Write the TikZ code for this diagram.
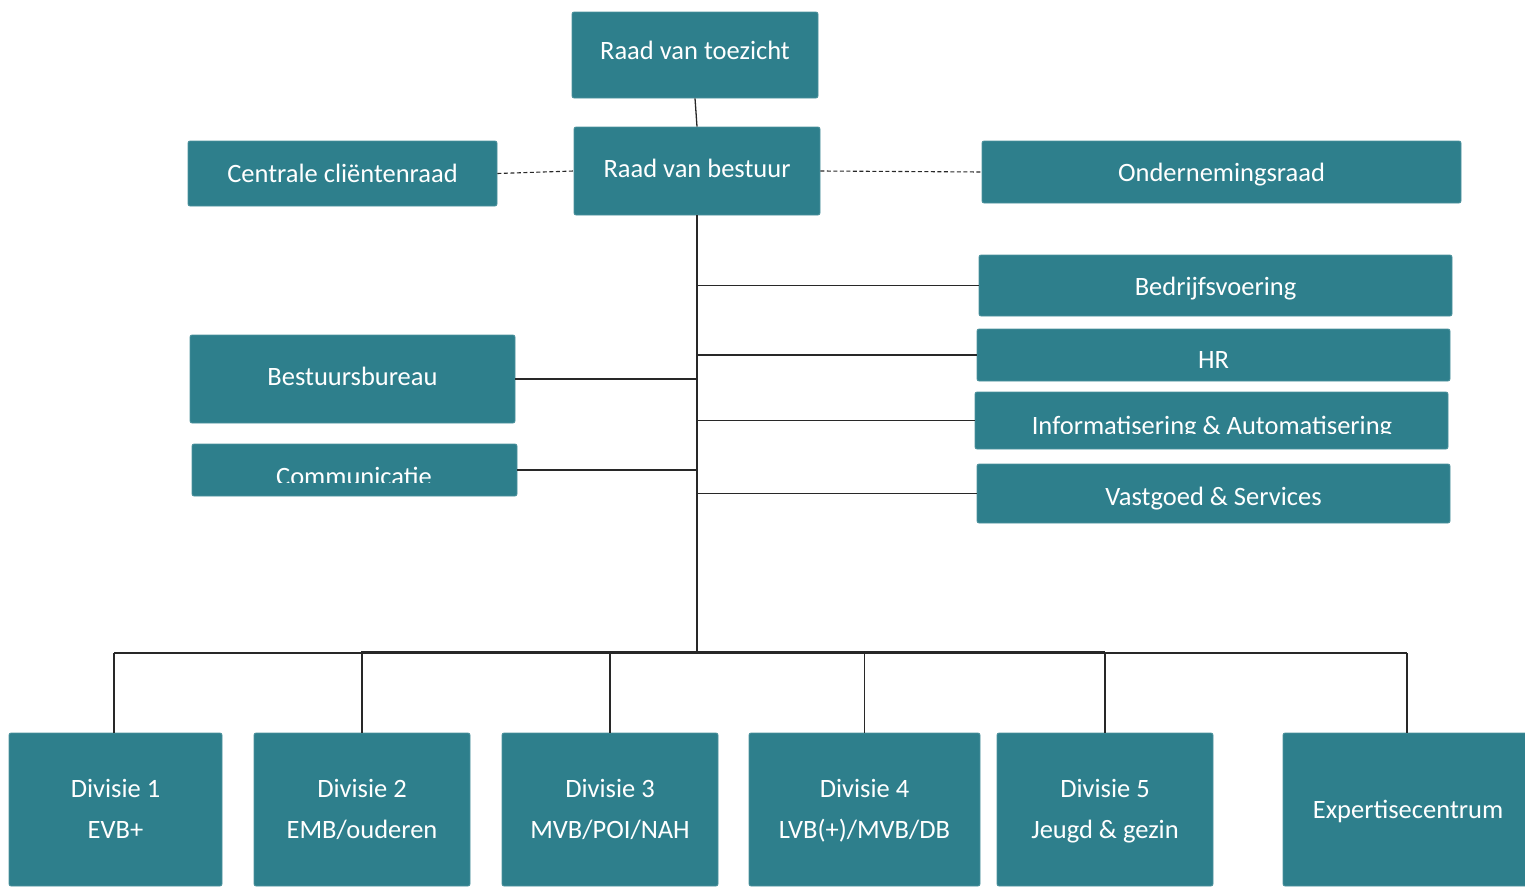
\documentclass[tikz,border=0pt]{standalone}
\usepackage{fontspec}
\setmainfont{Carlito}
\definecolor{boxteal}{RGB}{46,127,140}
\definecolor{linegray}{RGB}{40,40,40}
\begin{document}
\begin{tikzpicture}[x=1pt,y=-1pt,
  orgbox/.style={draw=boxteal!85!white,line width=0.8pt,fill=boxteal,rounded corners=2pt,inner sep=0pt,
    text=white,font=\fontsize{26.5}{41}\selectfont,align=center},
  base/.style={text height=#1pt,text depth=0pt},
  plaintext/.style={inner sep=0pt,text=white,font=\fontsize{26.5}{41}\selectfont},
  conn/.style={draw=linegray,line width=1.3pt},
  dashconn/.style={draw=linegray,line width=1.1pt,dashed,dash pattern=on 4pt off 2.5pt}]
\useasboundingbox (0,0) rectangle (1525,886);
% boxes
\node[orgbox,base=8,minimum width=246pt,minimum height=86pt] (rvt) at (695,55) {Raad van toezicht};
\node[orgbox,base=12,minimum width=246pt,minimum height=88pt] (rvb) at (697,171) {Raad van bestuur};
\node[orgbox,base=17,minimum width=309pt,minimum height=65pt] (ccr) at (342.5,173.5) {Centrale cliëntenraad};
\node[orgbox,base=19,minimum width=479pt,minimum height=62pt] (or) at (1221.5,172) {Ondernemingsraad};
\node[orgbox,base=19,minimum width=473pt,minimum height=61pt] (bv) at (1215.5,285.5) {Bedrijfsvoering};
\node[orgbox,base=27,minimum width=473pt,minimum height=52pt] (hr) at (1213.5,355) {HR};
\node[orgbox,minimum width=473pt,minimum height=57pt] (ia) at (1211.5,420.5) {};
\node[orgbox,base=23,minimum width=473pt,minimum height=59pt] (vs) at (1213.5,493.5) {Vastgoed \& Services};
\node[orgbox,base=12,minimum width=325pt,minimum height=88pt] (bb) at (352.5,379) {Bestuursbureau};
\node[orgbox,minimum width=325pt,minimum height=52pt] (com) at (354.5,470) {};
\begin{scope}
  \clip (975,392) rectangle (1448,433.5);
  \node[plaintext,anchor=base] (iatext) at (1212,434) {Informatisering \& Automatisering};
\end{scope}
\begin{scope}
  \clip (192,444) rectangle (517,482.5);
  \node[plaintext,anchor=base] (comtext) at (354,485) {Communicatie};
\end{scope}
\node[orgbox,base=57,minimum width=213pt,minimum height=153pt] (d1) at (115.5,809.5) {\smash{Divisie 1}\\\smash{EVB+}};
\node[orgbox,base=57,minimum width=216pt,minimum height=153pt] (d2) at (362,809.5) {\smash{Divisie 2}\\\smash{EMB/ouderen}};
\node[orgbox,base=57,minimum width=216pt,minimum height=153pt] (d3) at (610,809.5) {\smash{Divisie 3}\\\smash{MVB/POI/NAH}};
\node[orgbox,base=57,minimum width=231pt,minimum height=153pt] (d4) at (864.5,809.5) {\smash{Divisie 4}\\\smash{LVB(+)/MVB/DB}};
\node[orgbox,base=57,minimum width=216pt,minimum height=153pt] (d5) at (1105,809.5) {\smash{Divisie 5}\\\smash{Jeugd \& gezin}};
\node[orgbox,base=17,minimum width=250pt,minimum height=153pt] (ec) at (1408,809.5) {Expertisecentrum};
% connectors
\coordinate (trunkbot) at (697,653);
\draw[conn] (rvt.south) -- (rvb.north);
\draw[dashconn] (ccr.east) -- (rvb.west);
\draw[dashconn] (rvb.east) -- (or.west);
\draw[conn] (rvb.south) -- (trunkbot);
\draw[conn] (bv.west) -- (bv.west -| rvb.south);
\draw[conn] (hr.west) -- (hr.west -| rvb.south);
\draw[conn] (ia.west) -- (ia.west -| rvb.south);
\draw[conn] (vs.west) -- (vs.west -| rvb.south);
\draw[conn] (bb.east) -- (bb.east -| rvb.south);
\draw[conn] (com.east) -- (com.east -| rvb.south);
\coordinate (busL) at (114,653);
\coordinate (busR) at (1407,653);
\draw[conn] (busL) -- (busR);
\draw[conn,line width=2pt] (361,652) -- (1105,652);
\draw[conn] (busL) -- (d1.north -| busL);
\draw[conn] (d2.north |- busL) -- (d2.north);
\draw[conn] (d3.north |- busL) -- (d3.north);
\draw[conn] (d4.north |- busL) -- (d4.north);
\draw[conn] (d5.north |- busL) -- (d5.north);
\draw[conn] (busR) -- (ec.north -| busR);
\end{tikzpicture}
\end{document}
